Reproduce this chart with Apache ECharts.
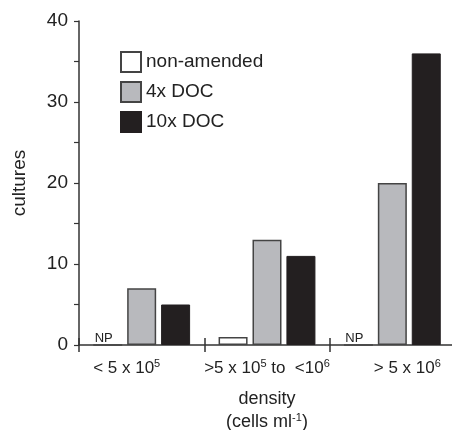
<!DOCTYPE html>
<html><head><meta charset="utf-8">
<script src="https://cdn.jsdelivr.net/npm/echarts@6/dist/echarts.min.js"></script>
<style>html,body{margin:0;padding:0;background:#fff}#c{width:452px;height:430px}</style>
</head><body><div id="c"></div>
<script>
var categories = ['< 5 x 10^5', '>5 x 10^5 to  <10^6', '> 5 x 10^6'];
var nonAmended = [0, 1, 0];
var npLabels = ['NP', '', 'NP'];
var doc4x = [7, 13, 20];
var doc10x = [5, 11, 36];
var yTicks = [0, 10, 20, 30, 40];

var FONT = 'Liberation Sans, Arial, Helvetica, sans-serif';
var chart = echarts.init(document.getElementById('c'));

function catLabel(v, i) {
  var s = '{t|' + v.replace(/\^(\d)/g, '}{sup|$1}{t|') + '}';
  s = s.replace(/\{t\|\}/g, '');
  if (i === 0) s = s + '{sp| }';
  if (i === 2) s = '{sp| }' + s;
  return s;
}

var rich = {
  t: {fontSize: 17, color: '#222', fontFamily: FONT, lineHeight: 20},
  sup: {fontSize: 11, color: '#222', fontFamily: FONT, padding: [0, 0, 9, 0], lineHeight: 11},
  sp: {width: 30}
};

chart.setOption({
  animation: false,
  textStyle: {fontFamily: FONT},
  grid: {left: 79, top: 21, bottom: 85, right: -3, outerBoundsMode: 'none', containLabel: false},
  legend: {
    orient: 'vertical', left: 120, top: 51, itemWidth: 20, itemHeight: 20, itemGap: 8, padding: 0,
    icon: 'rect',
    textStyle: {fontSize: 19, color: '#222', fontFamily: FONT, lineHeight: 20},
    data: ['non-amended', '4x DOC', '10x DOC']
  },
  xAxis: [{
    type: 'category', data: categories, position: 'bottom',
    axisLine: {lineStyle: {color: '#333', width: 1.5}},
    axisTick: {show: true, length: 7, interval: 0, lineStyle: {color: '#333', width: 1.5}},
    axisLabel: {interval: 0, margin: 13, formatter: catLabel, rich: rich},
    name: '{n|density}\n{n|(cells ml}{s|-1}{n|)}',
    nameLocation: 'middle', nameGap: 43,
    nameTextStyle: {rich: {
      n: {fontSize: 18, color: '#222', fontFamily: FONT, lineHeight: 23},
      s: {fontSize: 11, color: '#222', fontFamily: FONT, padding: [0, 0, 9, 0], lineHeight: 11}
    }}
  }, {
    type: 'category', data: categories, position: 'bottom',
    axisLine: {show: false},
    axisTick: {show: true, inside: true, length: 7, interval: 0, lineStyle: {color: '#333', width: 1.5}},
    axisLabel: {show: false}
  }],
  yAxis: {
    type: 'value', min: 0, max: 40, interval: 5,
    splitLine: {show: false},
    axisLine: {show: true, lineStyle: {color: '#333', width: 1.5}},
    axisTick: {show: true, length: 5, lineStyle: {color: '#333', width: 1.2}},
    axisLabel: {
      fontSize: 19, color: '#222', margin: 11, fontFamily: FONT,
      formatter: function (v) { return yTicks.indexOf(v) >= 0 ? String(v) : ''; }
    },
    name: 'cultures', nameLocation: 'middle', nameGap: 50,
    nameTextStyle: {fontSize: 19, color: '#222', fontFamily: FONT}
  },
  series: [{
    name: 'non-amended', type: 'bar', barWidth: 29, barGap: '17%',
    itemStyle: {color: '#ffffff', borderColor: '#444', borderWidth: 1.5},
    data: nonAmended.map(function (v, i) {
      return {value: v, label: {show: npLabels[i] !== '', formatter: npLabels[i], position: 'insideBottom',
        offset: [-4, 4], fontSize: 13, color: '#222', fontFamily: FONT}};
    })
  }, {
    name: '4x DOC', type: 'bar', barWidth: 29, barGap: '17%',
    itemStyle: {color: '#b8b9bd', borderColor: '#444', borderWidth: 1.5},
    data: doc4x
  }, {
    name: '10x DOC', type: 'bar', barWidth: 29, barGap: '17%',
    itemStyle: {color: '#231f20', borderColor: '#231f20', borderWidth: 1},
    data: doc10x
  }]
});
</script></body></html>
